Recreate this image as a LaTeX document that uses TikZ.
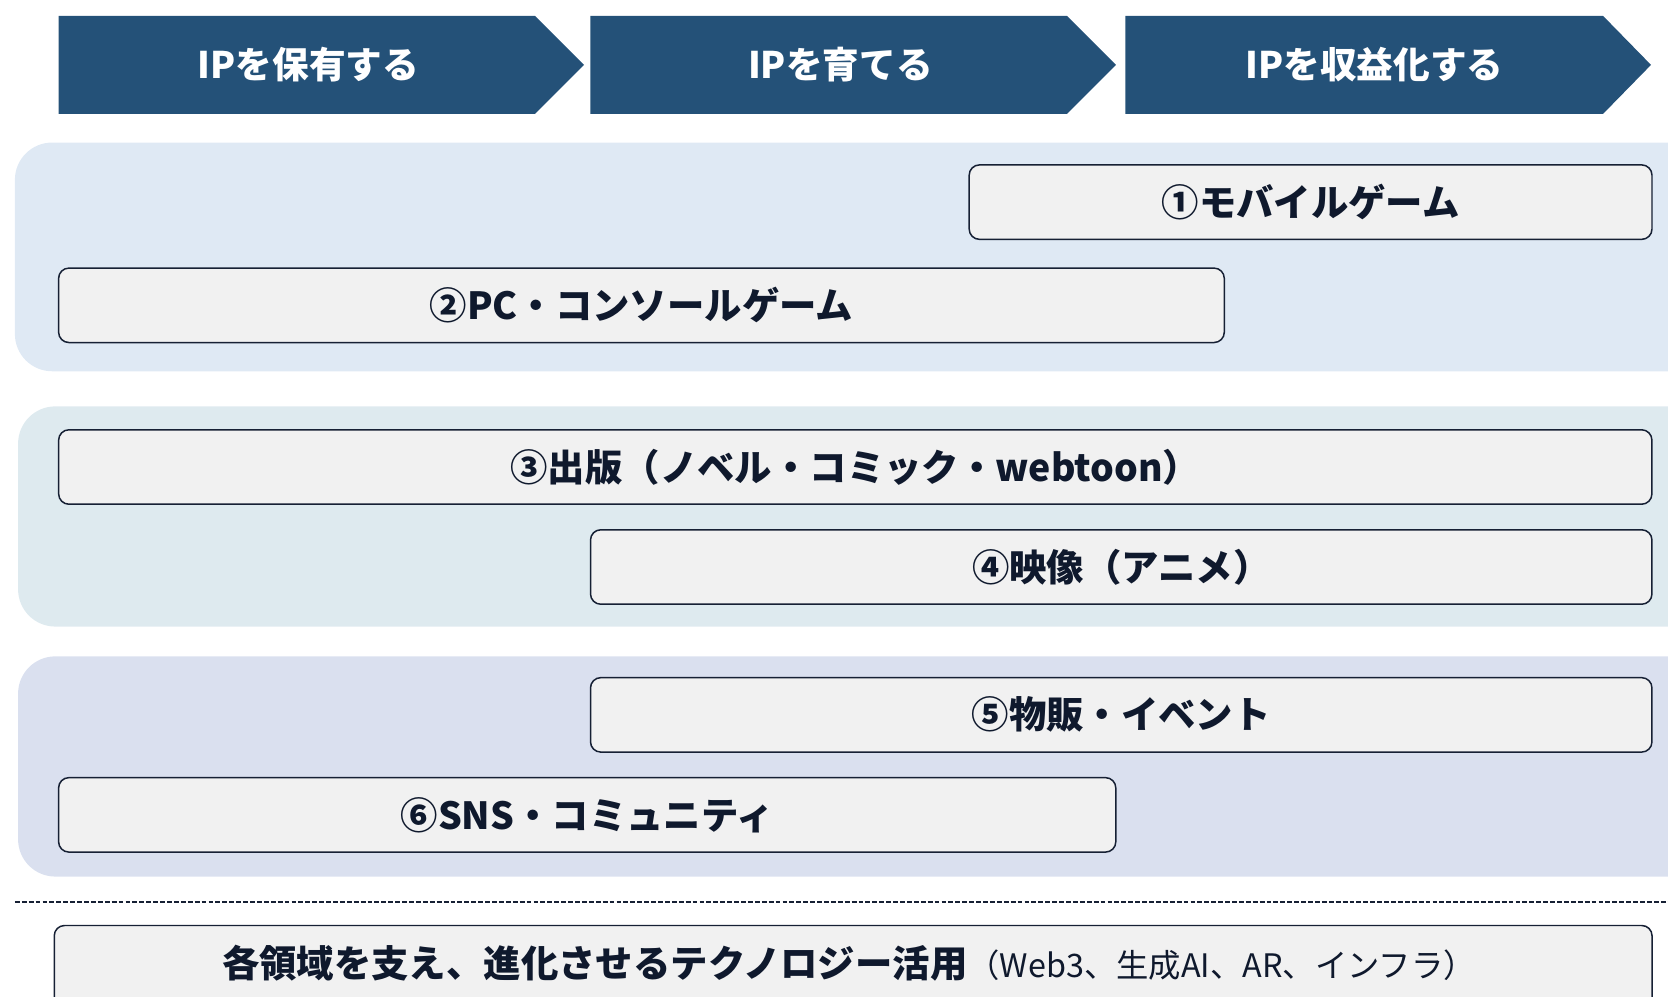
\documentclass[tikz,border=0pt]{standalone}
\usepackage{fontspec}
\setmainfont{Noto Sans CJK JP}
\definecolor{hdr}{RGB}{36,81,120}
\definecolor{grpA}{RGB}{223,233,244}
\definecolor{grpB}{RGB}{222,234,239}
\definecolor{grpC}{RGB}{218,224,239}
\definecolor{boxfill}{RGB}{241,241,241}
\definecolor{boxline}{RGB}{22,32,52}
\definecolor{txt}{RGB}{15,25,45}
\tikzset{
  hdrshape/.style={fill=hdr},
  hdrtext/.style={text=white,font=\fontsize{19.6}{23}\selectfont\bfseries,inner sep=0pt},
  grp/.style={rounded corners=0.7cm},
  itembox/.style={draw=boxline,fill=boxfill,line width=0.8pt,rounded corners=5.5pt,inner sep=0pt,
    minimum height=1.4cm,text=txt,font=\fontsize{20}{24}\selectfont\bfseries},
  sep/.style={draw=boxline,line width=1.4pt,dash pattern=on 2.6pt off 1.1pt}
}
\begin{document}
\begin{tikzpicture}[x=0.02cm,y=-0.02cm]
\useasboundingbox (0,0) rectangle (1568,937);
\clip (0,0) rectangle (1568,937);
% header chevrons
\fill[hdrshape] (55,15) -- (503,15) -- (549,61) -- (503,107) -- (55,107) -- cycle;
\fill[hdrshape] (555,15) -- (1003,15) -- (1049,61) -- (1003,107) -- (555,107) -- cycle;
\fill[hdrshape] (1058,15) -- (1507,15) -- (1552,61) -- (1507,107) -- (1058,107) -- cycle;
\node[hdrtext] (h1) at (290,61) {IPを保有する};
\node[hdrtext] (h2) at (790,61) {IPを育てる};
\node[hdrtext] (h3) at (1292,61) {IPを収益化する};
% groups
\fill[grp,fill=grpA] (14,134) rectangle (1620,349);
\fill[grp,fill=grpB] (17,382) rectangle (1620,589);
\fill[grp,fill=grpC] (17,617) rectangle (1620,824);
% items
\node[itembox,minimum width=12.84cm] (b1) at (1232,190) {①モバイルゲーム};
\node[itembox,minimum width=21.92cm] (b2) at (603,287) {②PC・コンソールゲーム};
\node[itembox,minimum width=29.96cm] (b3) at (804,439) {③出版（ノベル・コミック・webtoon）};
\node[itembox,minimum width=19.96cm] (b4) at (1054,533) {④映像（アニメ）};
\node[itembox,minimum width=19.96cm] (b5) at (1054,672) {⑤物販・イベント};
\node[itembox,minimum width=19.88cm] (b6) at (552,766) {⑥SNS・コミュニティ};
% separator
\coordinate (sl) at (14,848);
\coordinate (sr) at (1568,848);
\draw[sep] (sl) -- (sr);
% bottom box
\draw[draw=boxline,fill=boxfill,line width=0.8pt,rounded corners=5.5pt] (51,870) rectangle (1553,990);
\node[text=txt,inner sep=0pt] (b7) at (798,905) {{\fontsize{20}{24}\selectfont\bfseries 各領域を支え、進化させるテクノロジー活用}{\fontsize{17.3}{21}\selectfont （Web3、生成AI、AR、インフラ）}};
\end{tikzpicture}
\end{document}
